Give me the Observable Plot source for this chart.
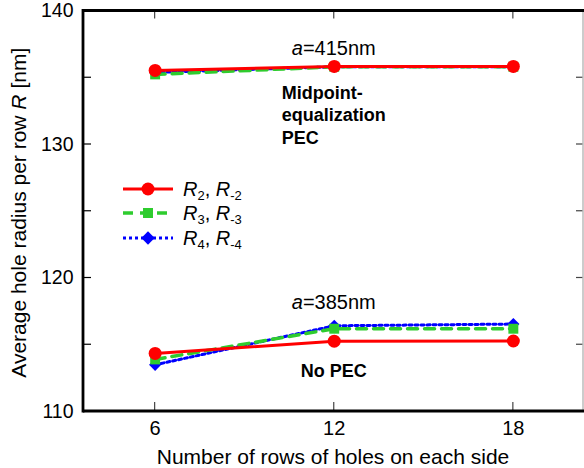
<!DOCTYPE html>
<html><head><meta charset="utf-8">
<script src="https://cdn.jsdelivr.net/npm/d3@7"></script>
<script src="https://cdn.jsdelivr.net/npm/@observablehq/plot@0.6"></script>
<style>
body{margin:0;background:#fff}
svg{font-family:"Liberation Sans",Arial,Helvetica,sans-serif}
</style>
</head><body><div id="chart"></div>
<script>
// ---- data ----
const rows = [6, 12, 18];
// a = 415 nm, Midpoint-equalization PEC
const r2_415 = [135.55, 135.85, 135.85];
const r3_415 = [135.25, 135.82, 135.82];
const r4_415 = [135.40, 135.82, 135.82];
// a = 385 nm, No PEC
const r2_385 = [114.35, 115.27, 115.28];
const r3_385 = [113.90, 116.20, 116.20];
const r4_385 = [113.50, 116.42, 116.55];

const xTicks = [6, 12, 18];
const yTicks = [110, 115, 120, 125, 130, 135, 140];
const yLabels = [110, 120, 130, 140];

const seriesNames = ["R2", "R3", "R4"];
const seriesSub = ["2", "3", "4"];
const seriesColor = ["#ff0000", "#2ecc2e", "#0000ff"];

// annotations (data coordinates)
const annotations = [
  {x: 12, y: 136.67, parts: [["a", true], ["=415nm", false]], bold: false, anchor: "middle"},
  {x: 12, y: 117.64, parts: [["a", true], ["=385nm", false]], bold: false, anchor: "middle"},
  {x: 10.26, y: 133.4, parts: [["Midpoint-", false]], bold: true, anchor: "start"},
  {x: 10.26, y: 131.7, parts: [["equalization", false]], bold: true, anchor: "start"},
  {x: 10.26, y: 130.0, parts: [["PEC", false]], bold: true, anchor: "start"},
  {x: 12, y: 112.58, parts: [["No PEC", false]], bold: true, anchor: "middle"}
];

// ---- table ----
const table = [];
const sets = [
  ["415", [r2_415, r3_415, r4_415]],
  ["385", [r2_385, r3_385, r4_385]]
];
for (const [lat, arrs] of sets) {
  arrs.forEach((arr, si) => {
    rows.forEach((n, i) => table.push({series: seriesNames[si], lattice: lat, n, r: arr[i]}));
  });
}
const sub = s => table.filter(d => d.series === s);

const W = 584, H = 468;
const mL = 83, mR = 1, mT = 10.5, mB = 57;

const plot = Plot.plot({
  width: W, height: H,
  marginLeft: mL, marginRight: mR, marginTop: mT, marginBottom: mB,
  style: {background: "#fff", color: "#000", fontFamily: '"Liberation Sans",Arial,sans-serif', overflow: "visible"},
  x: {domain: [3.6, 20.35]},
  y: {domain: [110, 140]},
  marks: [
    Plot.axisY({ticks: yLabels, tickSize: 0, tickPadding: 10, fontSize: 19.5, label: null, tickFormat: d => String(d)}),
    Plot.axisX({ticks: xTicks, tickSize: 0, tickPadding: 9, fontSize: 20, label: null, tickFormat: d => String(d)}),
    // R4 blue dotted
    Plot.line(sub("R4"), {x: "n", y: "r", z: "lattice", stroke: seriesColor[2], strokeWidth: 3, strokeDasharray: "3,3"}),
    Plot.dot(sub("R4"), {x: "n", y: "r", symbol: "diamond2", r: 5.5, fill: seriesColor[2], stroke: "none"}),
    // R3 green dashed
    Plot.line(sub("R3"), {x: "n", y: "r", z: "lattice", stroke: seriesColor[1], strokeWidth: 3.5, strokeDasharray: "10,7"}),
    Plot.dot(sub("R3"), {x: "n", y: "r", symbol: "square", r: 5.6, fill: seriesColor[1], stroke: "none"}),
    // R2 red solid
    Plot.line(sub("R2"), {x: "n", y: "r", z: "lattice", stroke: seriesColor[0], strokeWidth: 3}),
    Plot.dot(sub("R2"), {x: "n", y: "r", symbol: "circle", r: 6.5, fill: seriesColor[0], stroke: "none"})
  ]
});

document.getElementById("chart").appendChild(plot);

const svg = d3.select(plot);
const sx = v => plot.scale("x").apply(v);
const sy = v => plot.scale("y").apply(v);
const [x0, x1] = plot.scale("x").domain;
const [y0, y1] = plot.scale("y").domain;
const L = sx(x0), R = sx(x1), B = sy(y0), T = sy(y1);

const g = svg.append("g");
// inward ticks
yTicks.forEach(v => {
  g.append("line").attr("x1", L).attr("x2", L + 8).attr("y1", sy(v)).attr("y2", sy(v)).attr("stroke", "#000").attr("stroke-width", 1.2);
  g.append("line").attr("x1", R - 7).attr("x2", R).attr("y1", sy(v)).attr("y2", sy(v)).attr("stroke", "#444").attr("stroke-width", 1.2);
});
xTicks.forEach(v => {
  g.append("line").attr("x1", sx(v)).attr("x2", sx(v)).attr("y1", T).attr("y2", T + 8).attr("stroke", "#444").attr("stroke-width", 1.2);
  g.append("line").attr("x1", sx(v)).attr("x2", sx(v)).attr("y1", B).attr("y2", B - 9).attr("stroke", "#444").attr("stroke-width", 1.2);
});
// spines
g.append("line").attr("x1", R).attr("x2", R).attr("y1", T).attr("y2", B).attr("stroke", "#bbb").attr("stroke-width", 1.5);
g.append("line").attr("x1", L).attr("x2", R + 1).attr("y1", T).attr("y2", T).attr("stroke", "#000").attr("stroke-width", 2.8);
g.append("line").attr("x1", L).attr("x2", R + 1).attr("y1", B).attr("y2", B).attr("stroke", "#000").attr("stroke-width", 2.8);
g.append("line").attr("x1", L).attr("x2", L).attr("y1", T - 1.4).attr("y2", B + 1.4).attr("stroke", "#000").attr("stroke-width", 2.8);

// annotations
annotations.forEach(a => {
  const t = svg.append("text").attr("x", sx(a.x)).attr("y", sy(a.y))
    .attr("text-anchor", a.anchor)
    .attr("font-size", a.bold ? 18 : 20)
    .attr("font-weight", a.bold ? "bold" : "normal")
    .attr("fill", "#000");
  a.parts.forEach(([s, it]) => t.append("tspan").attr("font-style", it ? "italic" : "normal").text(s));
});

// axis titles
svg.append("text").attr("x", (L + R) / 2).attr("y", 464).attr("text-anchor", "middle")
  .attr("font-size", 21).attr("fill", "#000").text("Number of rows of holes on each side");
const yt = svg.append("text").attr("transform", `translate(26,${(T + B) / 2 + 2}) rotate(-90)`)
  .attr("text-anchor", "middle").attr("font-size", 21).attr("fill", "#000");
yt.append("tspan").text("Average hole radius per row ");
yt.append("tspan").attr("font-style", "italic").text("R");
yt.append("tspan").text(" [nm]");

// legend
const legY = [189, 213, 238];
const dashes = [null, "10,7", "3,3"];
const widths = [3, 3.5, 3];
const syms = [d3.symbolCircle, d3.symbolSquare, d3.symbolDiamond2];
const symSize = [Math.PI * 6.5 * 6.5, 100, 113];
const lg = svg.append("g");
seriesNames.forEach((s, i) => {
  const y = legY[i];
  lg.append("line").attr("x1", 123).attr("x2", 173).attr("y1", y).attr("y2", y)
    .attr("stroke", seriesColor[i]).attr("stroke-width", widths[i]).attr("stroke-dasharray", dashes[i]);
  lg.append("path").attr("transform", `translate(148,${y})`).attr("d", d3.symbol(syms[i], symSize[i])()).attr("fill", seriesColor[i]);
  const t = lg.append("text").attr("x", 183).attr("y", y + 7).attr("text-anchor", "start").attr("font-size", 20).attr("fill", "#000");
  t.append("tspan").attr("font-style", "italic").text("R");
  t.append("tspan").attr("font-size", 13).attr("dy", 4).text(seriesSub[i]);
  t.append("tspan").attr("dy", -4).text(", ");
  t.append("tspan").attr("font-style", "italic").text("R");
  t.append("tspan").attr("font-size", 13).attr("dy", 4).text("-" + seriesSub[i]);
});
</script>
</body></html>
